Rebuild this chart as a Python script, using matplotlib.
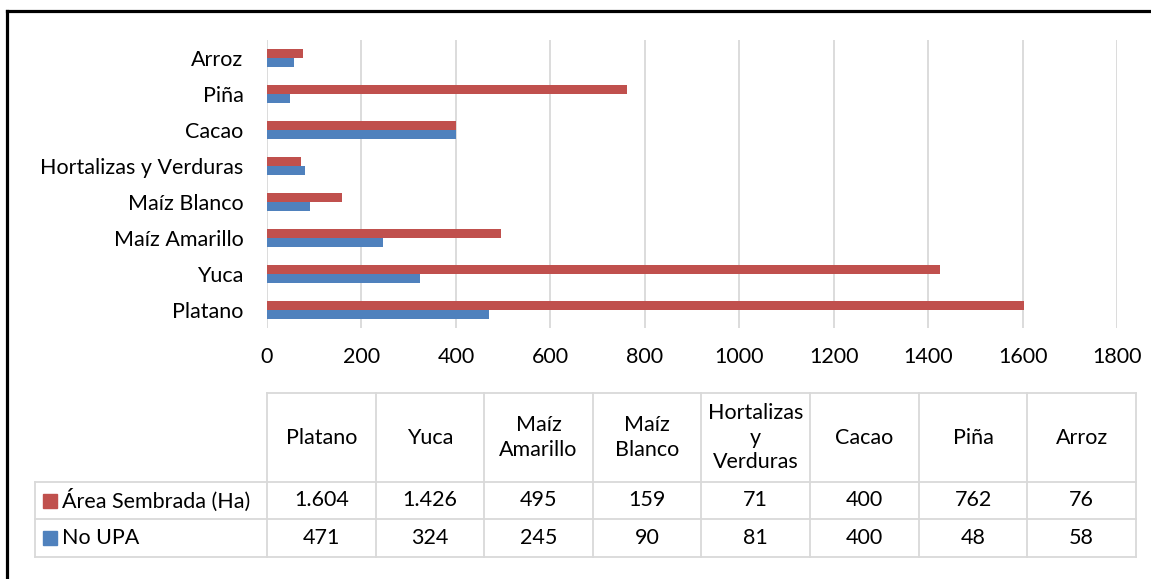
import numpy as np
import matplotlib.pyplot as plt
from matplotlib.patches import Rectangle

cultivos = ["Platano", "Yuca", "Maíz Amarillo", "Maíz Blanco",
            "Hortalizas y Verduras", "Cacao", "Piña", "Arroz"]
area_sembrada = [1604, 1426, 495, 159, 71, 400, 762, 76]
no_upa = [471, 324, 245, 90, 81, 400, 48, 58]
series_names = ["Área Sembrada (Ha)", "No UPA"]
xticks = [0, 200, 400, 600, 800, 1000, 1200, 1400, 1600, 1800]

RED = '#C0504D'
BLUE = '#4F81BD'
GRID = '#D9D9D9'

plt.rcParams['font.family'] = ['Lato', 'DejaVu Sans']
FS = 15.5

W, H = 1151, 579
fig = plt.figure(figsize=(W / 100, H / 100), dpi=100)


def box(l, t, r, b):
    return [l / W, 1 - b / H, (r - l) / W, (b - t) / H]


# overlay in pixel coordinates for the border and the data table
ov = fig.add_axes([0, 0, 1, 1])
ov.set_xlim(0, W)
ov.set_ylim(H, 0)
ov.axis('off')
ov.plot([7, 7], [11, H + 5], color='black', lw=2.3, solid_capstyle='projecting')
ov.plot([7, W + 5], [11, 11], color='black', lw=2.3, solid_capstyle='projecting')

# bars
ax = fig.add_axes(box(267, 40, 1117, 328))
y = np.arange(len(cultivos))
ax.barh(y + 0.125, area_sembrada, height=0.25, color=RED)
ax.barh(y - 0.125, no_upa, height=0.25, color=BLUE)
ax.set_ylim(-0.5, len(cultivos) - 0.5)
ax.set_xlim(0, 1800)
ax.set_xticks(xticks)
ax.set_xticklabels([str(t) for t in xticks], fontsize=FS)
ax.set_yticks(y)
ax.set_yticklabels(cultivos, fontsize=FS)
ax.grid(axis='x', color=GRID, lw=1.3)
ax.set_axisbelow(True)
for s in ax.spines.values():
    s.set_visible(False)
ax.tick_params(length=0)
ax.tick_params(axis='x', pad=14)
ax.tick_params(axis='y', pad=17)
ax.patch.set_alpha(0)

# data table
cols = np.linspace(267, 1136, len(cultivos) + 1)
rows = [393, 482, 519, 557]
lkw = dict(color=GRID, lw=1.3)
ov.plot([cols[0], cols[-1]], [rows[0], rows[0]], **lkw)
for r in rows[1:]:
    ov.plot([35, cols[-1]], [r, r], **lkw)
ov.plot([35, 35], [rows[1], rows[3]], **lkw)
for c in cols:
    ov.plot([c, c], [rows[0], rows[3]], **lkw)

for i, name in enumerate(cultivos):
    cx = (cols[i] + cols[i + 1]) / 2
    ov.text(cx, (rows[0] + rows[1]) / 2, name.replace(" ", "\n"), ha='center',
            va='center', fontsize=FS, linespacing=1.3)
    ov.text(cx, (rows[1] + rows[2]) / 2, f"{area_sembrada[i]:,}".replace(",", "."),
            ha='center', va='center', fontsize=FS)
    ov.text(cx, (rows[2] + rows[3]) / 2, f"{no_upa[i]:,}".replace(",", "."),
            ha='center', va='center', fontsize=FS)

for k, (nm, col) in enumerate(zip(series_names, [RED, BLUE])):
    cy = (rows[1 + k] + rows[2 + k]) / 2
    ov.add_patch(Rectangle((43, cy - 7), 14, 14, color=col))
    ov.text(62, cy, nm, ha='left', va='center', fontsize=FS)

fig.savefig('out.png', dpi=100)
